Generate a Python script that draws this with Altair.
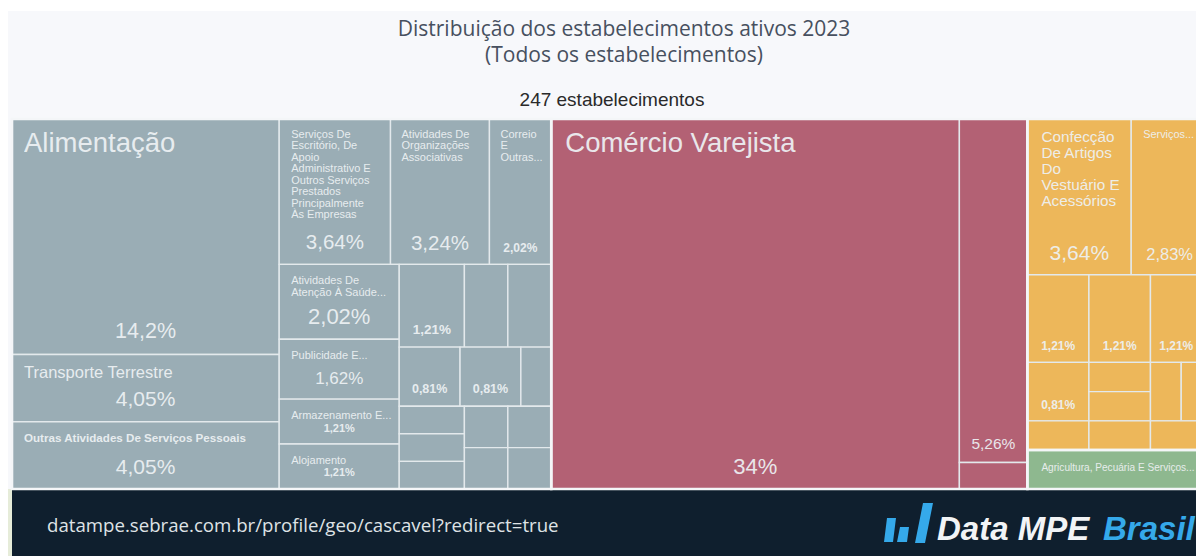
import altair as alt
import pandas as pd

TOTAL = 247
TITLE = ["Distribuição dos estabelecimentos ativos 2023", "(Todos os estabelecimentos)"]
SUBTITLE = "247 estabelecimentos"
FOOTER = "datampe.sebrae.com.br/profile/geo/cascavel?redirect=true"

# treemap tree: ("h"|"v", children) split; leaf = count of establishments
SLATE = ("h", [
    ("v", [35, 10, 10]),
    ("v", [
        ("h", [9, 8, 5]),
        ("h", [
            ("v", [5, 4, 3, 3]),
            ("v", [
                ("h", [3, 2, 2]),
                ("h", [2, 2, 1]),
                ("h", [("v", [1, 1, 1]), ("v", [("h", [1, 1]), ("h", [1, 1])])]),
            ]),
        ]),
    ]),
])
RED = ("h", [84, ("v", [13, 1])])
ORANGE = ("v", [
    ("h", [9, 7]),
    ("h", [3, 3, 3]),
    ("h", [2, ("v", [1, 1]), ("h", [1, 1])]),
    ("h", [1, 1, 1]),
])
GREEN = ("h", [4])
ROOT = ("h", [SLATE, RED, ("v", [ORANGE, GREEN])])

COLORS = ["#9aadb5", "#b36174", "#edb75a", "#8eb88f"]
TOP_GROUPS = [SLATE, RED, ORANGE, GREEN]

def weight(n):
    return n if isinstance(n, int) else sum(weight(c) for c in n[1])

cells, groups = [], []
def layout(n, x0, y0, x1, y1, color):
    tag = next((i for i, g in enumerate(TOP_GROUPS) if g is n), None)
    if tag is not None:
        color = COLORS[tag]
        groups.append(dict(x0=x0, y0=y0, x1=x1, y1=y1))
    if isinstance(n, int):
        cells.append(dict(x0=x0, y0=y0, x1=x1, y1=y1, n=n, color=color))
        return
    d, kids = n
    tot = weight(n)
    pos = x0 if d == "h" else y0
    for k in kids:
        span = ((x1 - x0) if d == "h" else (y1 - y0)) * weight(k) / tot
        if d == "h":
            layout(k, pos, y0, pos + span, y1, color)
        else:
            layout(k, x0, pos, x1, pos + span, color)
        pos += span

layout(ROOT, 0.0, 0.0, 1.0, 1.0, COLORS[0])
df_cells = pd.DataFrame(cells)
df_groups = pd.DataFrame(groups)

def pct(n):
    return f"{n / TOTAL * 100:.3g}".replace(".", ",") + "%"

# pixel geometry of the plot inside the chart
X0, X1, Y0, Y1 = 4, 1204, 111, 481
W, H = 1188, 548
xs = alt.Scale(domain=[0, 1], range=[X0, X1])
ys = alt.Scale(domain=[0, 1], range=[Y0, Y1])

# names: (cell index, lines, size, left pad px, first line dy px, line step, bold)
NAMES = [
    (0, ["Alimentação"], 27.5, 12, 24, 0, False),
    (1, ["Transporte Terrestre"], 16.5, 12, 18, 0, False),
    (2, ["Outras Atividades De Serviços Pessoais"], 11.6, 12, 16, 0, True),
    (3, ["Serviços De", "Escritório, De", "Apoio", "Administrativo E", "Outros Serviços", "Prestados", "Principalmente", "Às Empresas"], 11, 12, 14.5, 11.53, False),
    (4, ["Atividades De", "Organizações", "Associativas"], 11, 11, 14.5, 11.53, False),
    (5, ["Correio", "E", "Outras..."], 11, 11, 14.5, 11.53, False),
    (6, ["Atividades De", "Atenção À Saúde..."], 11, 12, 16, 11.53, False),
    (7, ["Publicidade E..."], 11, 12, 15.5, 0, False),
    (8, ["Armazenamento E..."], 11, 12, 16, 0, False),
    (9, ["Alojamento"], 11, 12, 16, 0, False),
]
RED_NAMES = ("Comércio Varejista", 27.5, 14, 24)
ORANGE_NAMES = (["Confecção", "De Artigos", "Do", "Vestuário E", "Acessórios"], 15.3, 14, 17, 15.9)
ORANGE2 = ("Serviços...", 10.9, 12, 15)
GREEN_NAME = ("Agricultura, Pecuária E Serviços...", 10.1, 14, 17)

# percent labels: (cell index, size, dy px from cell top)
PCTS = {0: (21.5, 212), 1: (21, 45), 2: (21, 45), 3: (20.5, 123), 4: (20.5, 124), 5: (12, 128),
        6: (22, 52), 7: (17, 39), 8: (11, 29), 9: (11, 28),
        10: (13.5, 65), 13: (12.5, 41), 14: (12.5, 41)}

def find(n):
    return df_cells.iloc[n]

text_rows = []
def add_text(x_u, y_px, text, size, align, bold=False):
    text_rows.append(dict(x=x_u, y=y_px + 1 / 370, text=text, size=size, align=align, bold=bold))

for i, lines, size, pad, dy, step, bold in NAMES:
    c = find(i)
    for k, line in enumerate(lines):
        add_text(c.x0 + pad / 1200, c.y0 + (dy + k * step) / 370, line, size, "left", bold)

idx = {"red": df_cells.index[df_cells.color == COLORS[1]].tolist(),
       "orange": df_cells.index[df_cells.color == COLORS[2]].tolist(),
       "green": df_cells.index[df_cells.color == COLORS[3]].tolist()}

c = find(idx["red"][0])
add_text(c.x0 + RED_NAMES[2] / 1200, c.y0 + RED_NAMES[3] / 370, RED_NAMES[0], RED_NAMES[1], "left")
PCTS[idx["red"][0]] = (22, 347)
PCTS[idx["red"][1]] = (15.5, 324)

o = idx["orange"]
c = find(o[0])
for k, line in enumerate(ORANGE_NAMES[0]):
    add_text(c.x0 + ORANGE_NAMES[2] / 1200, c.y0 + (ORANGE_NAMES[3] + k * ORANGE_NAMES[4]) / 370, line, ORANGE_NAMES[1], "left")
c = find(o[1])
add_text(c.x0 + ORANGE2[2] / 1200, c.y0 + ORANGE2[3] / 370, ORANGE2[0], ORANGE2[1], "left")
PCTS[o[0]] = (21, 134)
PCTS[o[1]] = (16.5, 135)
PCTS[o[2]] = (12, 70)
PCTS[o[3]] = (12, 70)
PCTS[o[4]] = (12, 70)
PCTS[o[5]] = (12, 42)
c = find(idx["green"][0])
add_text(c.x0 + GREEN_NAME[2] / 1200, c.y0 + GREEN_NAME[3] / 370, GREEN_NAME[0], GREEN_NAME[1], "left")

# labels that the page's right edge would cut are nudged left (px)
PCT_SHIFT = {o[1]: 2, o[4]: 5}

for i, (size, dy) in PCTS.items():
    c = find(i)
    add_text((c.x0 + c.x1) / 2 - PCT_SHIFT.get(i, 0) / 1200, c.y0 + dy / 370, pct(int(c.n)), size, "center", size <= 13.5)

df_text = pd.DataFrame(text_rows)

def box(color, x, x2, y, y2):
    return alt.Chart(pd.DataFrame({"a": [0]})).mark_rect(color=color).encode(
        x=alt.value(x), x2=alt.value(x2), y=alt.value(y), y2=alt.value(y2))

def label(text, x, y, **kw):
    return alt.Chart(pd.DataFrame({"t": [text]})).mark_text(baseline="middle", **kw).encode(
        x=alt.value(x), y=alt.value(y), text="t:N")

panel = box("#f7f8fb", 0, W, 3, Y1)
footer_left = box("#e6ecd9", 0, 4, Y1, H)
footer = box("#0f1f2e", 4, W, Y1, H)

rects = alt.Chart(df_cells).mark_rect(stroke="#e3e9ec", strokeWidth=1.4).encode(
    x=alt.X("x0:Q", scale=xs, axis=None), x2="x1:Q",
    y=alt.Y("y0:Q", scale=ys, axis=None), y2="y1:Q",
    fill=alt.Fill("color:N", scale=None),
)
group_lines = alt.Chart(df_groups).mark_rect(fill=None, stroke="#f4f6f8", strokeWidth=2.6).encode(
    x=alt.X("x0:Q", scale=xs, axis=None), x2="x1:Q",
    y=alt.Y("y0:Q", scale=ys, axis=None), y2="y1:Q",
)

def text_layer(align, bold):
    d = df_text[(df_text["align"] == align) & (df_text["bold"] == bold)]
    return alt.Chart(d).mark_text(align=align, baseline="middle", font="Liberation Sans",
                                  fontWeight="bold" if bold else "normal",
                                  color="#eef2f4", opacity=0.92).encode(
        x=alt.X("x:Q", scale=xs, axis=None),
        y=alt.Y("y:Q", scale=ys, axis=None),
        text="text:N",
        size=alt.Size("size:Q", scale=None),
    )

t1 = label(TITLE[0], 616, 21.5, font="Open Sans", fontSize=21, color="#47505f", align="center")
t2 = label(TITLE[1], 616, 47.5, font="Open Sans", fontSize=21, color="#47505f", align="center")
t3 = label(SUBTITLE, 604, 92, font="Liberation Sans", fontSize=19, color="#2a2a2a", align="center")
foot = label(FOOTER, 39, 518, font="Open Sans", fontSize=18.65, color="#dfe3e6", align="left")
logo1 = label("Data MPE", 929, 522, font="Liberation Sans", fontSize=33, fontWeight="bold", fontStyle="italic", color="#f2f4f6", align="left")
logo2 = label("Brasil", 1095, 522, font="Liberation Sans", fontSize=33, fontWeight="bold", fontStyle="italic", color="#35a9ea", align="left")

LOGO_BARS = ("M-.96 .76L-.6 .76L-.48 -.2L-.84 -.2Z"
             "M-.44 .76L-.04 .76L.04 .16L-.32 .16Z"
             "M.28 .8L.68 .8L1 -.8L.6 -.8Z")
logo_icon = alt.Chart(pd.DataFrame({"a": [0]})).mark_point(
    shape=LOGO_BARS, filled=True, color="#35a9ea", size=2500, opacity=1
).encode(x=alt.value(900), y=alt.value(515))

chart = alt.layer(panel, footer_left, footer, rects, group_lines,
                  text_layer("left", False), text_layer("left", True),
                  text_layer("center", False), text_layer("center", True),
                  t1, t2, t3, foot, logo_icon, logo1, logo2).properties(
    width=W, height=H, padding=0, autosize=alt.AutoSizeParams(type="none"),
).configure_view(stroke=None, clip=False)

chart.save("out.html", embed_options={"renderer": "svg", "actions": False})
